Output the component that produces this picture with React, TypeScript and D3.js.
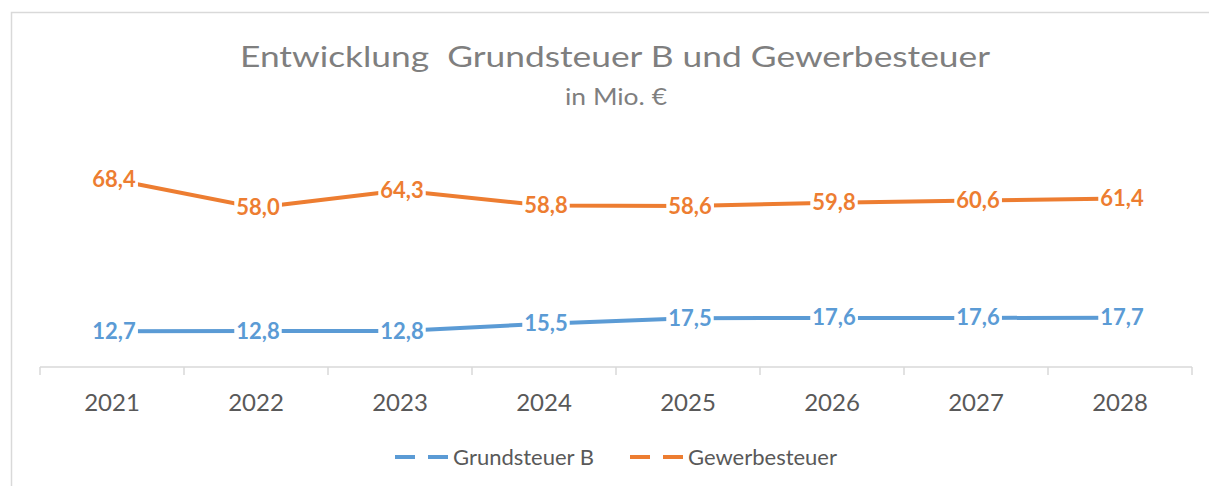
import React, { useEffect, useRef } from "react";
import * as d3 from "d3";

const years = ["2021", "2022", "2023", "2024", "2025", "2026", "2027", "2028"];
const grundsteuerB = [12.7, 12.8, 12.8, 15.5, 17.5, 17.6, 17.6, 17.7];
const gewerbesteuer = [68.4, 58.0, 64.3, 58.8, 58.6, 59.8, 60.6, 61.4];
const seriesNames = ["Grundsteuer B", "Gewerbesteuer"];
const seriesColors = ["#5B9BD5", "#ED7D31"];
const titleText = "Entwicklung\u00a0\u00a0Grundsteuer B und Gewerbesteuer";
const subtitleText = "in Mio. €";

const W = 1209;
const H = 486;
const FONT = "Lato, 'Open Sans', sans-serif";

export default function App() {
  const ref = useRef<SVGSVGElement | null>(null);

  useEffect(() => {
    const svg = d3.select(ref.current);
    svg.selectAll("*").remove();

    // chart border
    svg.append("rect")
      .attr("x", 11.5).attr("y", 12.5)
      .attr("width", 1300).attr("height", 600)
      .attr("fill", "white").attr("stroke", "#d9d9d9").attr("stroke-width", 1.5);

    // title
    svg.append("text")
      .attr("x", 615).attr("y", 67)
      .attr("text-anchor", "middle")
      .attr("font-family", FONT).attr("font-size", 29)
      .attr("fill", "#7f7f7f")
      .attr("textLength", 750).attr("lengthAdjust", "spacingAndGlyphs")
      .text(titleText);
    svg.append("text")
      .attr("x", 616).attr("y", 105)
      .attr("text-anchor", "middle")
      .attr("font-family", FONT).attr("font-size", 23)
      .attr("fill", "#7f7f7f")
      .attr("textLength", 102).attr("lengthAdjust", "spacingAndGlyphs")
      .text(subtitleText);

    const x = d3.scaleBand<string>().domain(years).range([40, 1192]).padding(0);
    const y = d3.scaleLinear().domain([0, 100]).range([366, 93]);

    // axis
    const axisY = 367;
    const gAxis = svg.append("g").attr("transform", `translate(0,${axisY})`);
    gAxis.append("line")
      .attr("x1", 40).attr("x2", 1192).attr("y1", 0).attr("y2", 0)
      .attr("stroke", "#d9d9d9").attr("stroke-width", 1.5);
    const tickPos = years.map((yr) => x(yr) as number).concat([x.range()[1]]);
    gAxis.selectAll("line.tick")
      .data(tickPos)
      .enter().append("line")
      .attr("class", "tick")
      .attr("x1", (d) => d).attr("x2", (d) => d)
      .attr("y1", 0).attr("y2", 8)
      .attr("stroke", "#d9d9d9").attr("stroke-width", 1.5);
    gAxis.selectAll("text.lbl")
      .data(years)
      .enter().append("text")
      .attr("class", "lbl")
      .attr("x", (d) => (x(d) as number) + x.bandwidth() / 2)
      .attr("y", 44)
      .attr("text-anchor", "middle")
      .attr("font-family", FONT).attr("font-size", 24)
      .attr("fill", "#595959")
      .text((d) => d);

    const allSeries = [grundsteuerB, gewerbesteuer];
    const cx = (i: number) => (x(years[i]) as number) + x.bandwidth() / 2;
    const line = d3.line<number>().x((_, i) => cx(i)).y((d) => y(d));

    allSeries.forEach((vals, si) => {
      svg.append("path")
        .attr("d", line(vals) as string)
        .attr("fill", "none")
        .attr("stroke", seriesColors[si])
        .attr("stroke-width", 4)
        .attr("stroke-linejoin", "round")
        .attr("stroke-linecap", "round");
    });

    // labels
    allSeries.forEach((vals, si) => {
      vals.forEach((v, i) => {
        const g = svg.append("g");
        const rect = g.append("rect").attr("fill", "white");
        const t = g.append("text")
          .attr("x", cx(i) + 2)
          .attr("y", y(v) + 7.5)
          .attr("text-anchor", "middle")
          .attr("font-family", FONT).attr("font-size", 22).attr("font-weight", "bold")
          .attr("fill", seriesColors[si])
          .text(d3.format(".1f")(v).replace(".", ","));
        const bb = (t.node() as SVGTextElement).getBBox();
        rect.attr("x", bb.x - 2).attr("y", y(v) - 10)
          .attr("width", bb.width + 4).attr("height", 20);
      });
    });

    // legend
    const legendY = 457;
    const legend = [
      { x0: 395, tx: 453 },
      { x0: 630, tx: 688 },
    ];
    legend.forEach((l, si) => {
      svg.append("line")
        .attr("x1", l.x0).attr("x2", l.x0 + 53)
        .attr("y1", legendY).attr("y2", legendY)
        .attr("stroke", seriesColors[si]).attr("stroke-width", 4)
        .attr("stroke-dasharray", "20,13");
      svg.append("text")
        .attr("x", l.tx).attr("y", legendY + 8)
        .attr("font-family", FONT).attr("font-size", 22)
        .attr("fill", "#595959")
        .text(seriesNames[si]);
    });
  }, []);

  return (
    <svg
      ref={ref}
      width={W}
      height={H}
      style={{ position: "absolute", left: 0, top: 0, background: "white" }}
    />
  );
}
